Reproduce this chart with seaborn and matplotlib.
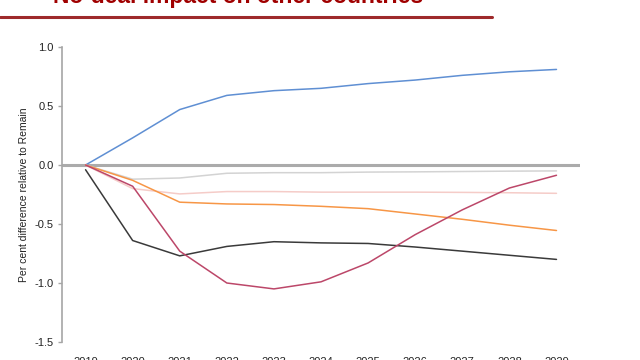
import pandas as pd
import matplotlib.pyplot as plt
import seaborn as sns
from matplotlib.lines import Line2D

# Chart data
years = [2019, 2020, 2021, 2022, 2023, 2024, 2025, 2026, 2027, 2028, 2029]
series_a = [0.0, 0.23, 0.47, 0.59, 0.63, 0.65, 0.69, 0.72, 0.76, 0.79, 0.81]          # blue
series_b = [0.0, -0.12, -0.11, -0.07, -0.065, -0.065, -0.06, -0.058, -0.055, -0.052, -0.05]  # light grey
series_c = [0.0, -0.20, -0.245, -0.225, -0.225, -0.23, -0.23, -0.23, -0.232, -0.235, -0.24]  # light pink
series_d = [0.0, -0.13, -0.315, -0.33, -0.335, -0.35, -0.37, -0.415, -0.46, -0.51, -0.555]   # orange
series_e = [-0.04, -0.64, -0.77, -0.69, -0.65, -0.66, -0.665, -0.695, -0.73, -0.765, -0.80]  # black
series_f = [0.0, -0.18, -0.73, -1.0, -1.05, -0.99, -0.83, -0.59, -0.38, -0.195, -0.087]     # crimson

series_names = ["A", "B", "C", "D", "E", "F"]
series_values = [series_a, series_b, series_c, series_d, series_e, series_f]
palette = {"A": "#5F8FD3", "B": "#D3D3D3", "C": "#F5CCC8",
           "D": "#F79646", "E": "#3A3A3A", "F": "#BC4769"}

rows = []
for name, vals in zip(series_names, series_values):
    for yr, v in zip(years, vals):
        rows.append({"year": yr, "value": v, "series": name})
df = pd.DataFrame(rows)

sns.set_style("white")
plt.rcParams["font.family"] = ["Liberation Sans", "DejaVu Sans"]

fig = plt.figure(figsize=(6.4, 3.6), dpi=100)
ax = fig.add_axes([0.0969, 0.05, 0.8094, 0.8194])

ax.axhline(0, color="#ABABAB", lw=2.2, zorder=1)
sns.lineplot(data=df, x="year", y="value", hue="series", palette=palette,
             lw=1.1, legend=False, ax=ax, zorder=3)

ax.set_xlim(2018.5, 2029.5)
ax.set_ylim(-1.5, 1.0)
ax.set_yticks([1.0, 0.5, 0.0, -0.5, -1.0, -1.5])
ax.set_yticklabels(["1.0", "0.5", "0.0", "-0.5", "-1.0", "-1.5"])
ax.set_xticks(years)
ax.set_xticklabels([str(y) for y in years])
ax.tick_params(axis="y", left=True, length=3, width=1, color="#A6A6A6",
               labelsize=8, pad=3, labelcolor="#222222")
ax.tick_params(axis="x", bottom=False, labelsize=8, pad=7, labelcolor="#222222")
for side in ["top", "right", "bottom"]:
    ax.spines[side].set_visible(False)
ax.spines["left"].set_color("#A6A6A6")
ax.spines["left"].set_linewidth(1.2)
ax.set_xlabel("")
ax.set_ylabel("Per cent difference relative to Remain", fontsize=7.5,
              color="#222222", labelpad=4)

# slide title (cut off at the top) and the red rule below it
fig.text(0.372, 0.992, "No-deal impact on other countries", ha="center",
         va="baseline", fontsize=16.5, fontweight="bold", color="#A00000")
fig.add_artist(Line2D([0, 0.769], [0.954, 0.954], transform=fig.transFigure,
                      color="#9E2A2B", lw=2.2))

fig.savefig("out.png", dpi=100)
